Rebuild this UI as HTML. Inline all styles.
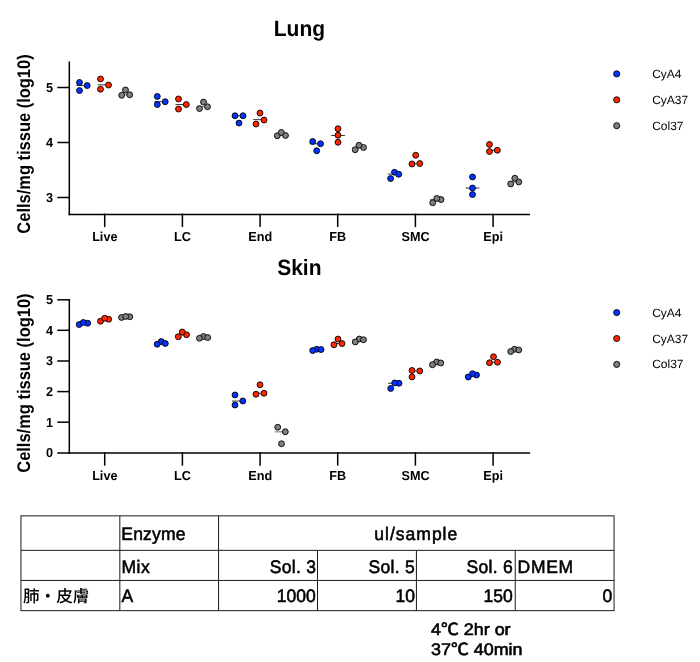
<!DOCTYPE html>
<html lang="ja">
<head>
<meta charset="utf-8">
<title>Lung / Skin cell yield</title>
<style>
html,body{margin:0;padding:0;background:#fff;}
body{width:700px;height:662px;overflow:hidden;}
svg{display:block;}
text{font-family:"Liberation Sans","Noto Sans CJK JP",sans-serif;fill:#000;text-rendering:geometricPrecision;}
.ax{stroke:#000;stroke-width:1.5;stroke-linecap:square;fill:none;}
.tk{font-size:13px;font-weight:bold;}
.lg{font-size:12px;}
.ti{font-size:21px;font-weight:bold;}
.yl{font-size:16.3px;font-weight:bold;}
.tb{stroke:#1a1a1a;stroke-width:1;fill:none;}
.tt{font-size:17.5px;stroke:#000;stroke-width:0.55;}
.tj{font-size:16.6px;font-weight:500;}
.fn{font-size:17.9px;stroke:#000;stroke-width:0.65;}
</style>
</head>
<body>
<svg width="700" height="662" viewBox="0 0 700 662" style="will-change:transform">
<!-- Lung -->
<text transform="translate(299.4,35.9) scale(1,1.05)" class="ti" text-anchor="middle">Lung</text>
<text transform="translate(29.5,144) rotate(-90) scale(1.011,1.12)" class="yl" text-anchor="middle">Cells/mg tissue (log10)</text>
<line x1="69.3" y1="61.45" x2="69.3" y2="215.15" class="ax" style="stroke-linecap:butt"/>
<line x1="58" y1="87.5" x2="69.3" y2="87.5" class="ax"/>
<text transform="translate(53.0,91.8) scale(0.975,1)" class="tk" text-anchor="end">5</text>
<line x1="58" y1="142.5" x2="69.3" y2="142.5" class="ax"/>
<text transform="translate(53.0,146.8) scale(0.975,1)" class="tk" text-anchor="end">4</text>
<line x1="58" y1="197.5" x2="69.3" y2="197.5" class="ax"/>
<text transform="translate(53.0,201.8) scale(0.975,1)" class="tk" text-anchor="end">3</text>
<line x1="69.3" y1="214.4" x2="529.3" y2="214.4" class="ax"/>
<line x1="104.7" y1="214.4" x2="104.7" y2="226.30" class="ax"/>
<text transform="translate(104.8,241.2) scale(0.975,1)" class="tk" text-anchor="middle">Live</text>
<line x1="182.4" y1="214.4" x2="182.4" y2="226.30" class="ax"/>
<text transform="translate(182.5,241.2) scale(0.975,1)" class="tk" text-anchor="middle">LC</text>
<line x1="260.1" y1="214.4" x2="260.1" y2="226.30" class="ax"/>
<text transform="translate(260.2,241.2) scale(0.975,1)" class="tk" text-anchor="middle">End</text>
<line x1="337.7" y1="214.4" x2="337.7" y2="226.30" class="ax"/>
<text transform="translate(337.8,241.2) scale(0.975,1)" class="tk" text-anchor="middle">FB</text>
<line x1="415.4" y1="214.4" x2="415.4" y2="226.30" class="ax"/>
<text transform="translate(415.5,241.2) scale(0.975,1)" class="tk" text-anchor="middle">SMC</text>
<line x1="493.1" y1="214.4" x2="493.1" y2="226.30" class="ax"/>
<text transform="translate(493.2,241.2) scale(0.975,1)" class="tk" text-anchor="middle">Epi</text>
<line x1="76.4" y1="85.55" x2="90.2" y2="85.55" stroke="#000" stroke-width="0.8"/>
<circle cx="79.5" cy="82.45" r="2.95" fill="#0433ff" stroke="#000" stroke-width="0.9"/>
<circle cx="79.5" cy="90.55" r="2.95" fill="#0433ff" stroke="#000" stroke-width="0.9"/>
<circle cx="87.2" cy="85.55" r="2.95" fill="#0433ff" stroke="#000" stroke-width="0.9"/>
<line x1="97.6" y1="84.85" x2="111.4" y2="84.85" stroke="#000" stroke-width="0.8"/>
<circle cx="100.5" cy="78.95" r="2.95" fill="#ff2600" stroke="#000" stroke-width="0.9"/>
<circle cx="100.5" cy="89.25" r="2.95" fill="#ff2600" stroke="#000" stroke-width="0.9"/>
<circle cx="108.5" cy="85.05" r="2.95" fill="#ff2600" stroke="#000" stroke-width="0.9"/>
<line x1="118.8" y1="94.75" x2="132.6" y2="94.75" stroke="#555" stroke-width="0.8"/>
<circle cx="121.7" cy="95.25" r="2.95" fill="#7f7f7f" stroke="#000" stroke-width="0.9"/>
<circle cx="129.7" cy="94.75" r="2.95" fill="#7f7f7f" stroke="#000" stroke-width="0.9"/>
<circle cx="125.5" cy="89.95" r="2.95" fill="#7f7f7f" stroke="#000" stroke-width="0.9"/>
<line x1="154.3" y1="101.65" x2="168.2" y2="101.65" stroke="#000" stroke-width="0.8"/>
<circle cx="157.3" cy="96.45" r="2.95" fill="#0433ff" stroke="#000" stroke-width="0.9"/>
<circle cx="157.3" cy="104.55" r="2.95" fill="#0433ff" stroke="#000" stroke-width="0.9"/>
<circle cx="165.2" cy="101.75" r="2.95" fill="#0433ff" stroke="#000" stroke-width="0.9"/>
<line x1="175.5" y1="104.55" x2="189.3" y2="104.55" stroke="#000" stroke-width="0.8"/>
<circle cx="178.5" cy="98.95" r="2.95" fill="#ff2600" stroke="#000" stroke-width="0.9"/>
<circle cx="178.5" cy="109.05" r="2.95" fill="#ff2600" stroke="#000" stroke-width="0.9"/>
<circle cx="186.3" cy="104.55" r="2.95" fill="#ff2600" stroke="#000" stroke-width="0.9"/>
<line x1="196.6" y1="106.75" x2="210.4" y2="106.75" stroke="#555" stroke-width="0.8"/>
<circle cx="199.5" cy="108.55" r="2.95" fill="#7f7f7f" stroke="#000" stroke-width="0.9"/>
<circle cx="207.5" cy="106.75" r="2.95" fill="#7f7f7f" stroke="#000" stroke-width="0.9"/>
<circle cx="203.5" cy="102.05" r="2.95" fill="#7f7f7f" stroke="#000" stroke-width="0.9"/>
<line x1="232.1" y1="115.75" x2="245.9" y2="115.75" stroke="#000" stroke-width="0.8"/>
<circle cx="235.0" cy="115.75" r="2.95" fill="#0433ff" stroke="#000" stroke-width="0.9"/>
<circle cx="243.0" cy="115.75" r="2.95" fill="#0433ff" stroke="#000" stroke-width="0.9"/>
<circle cx="239.0" cy="123.05" r="2.95" fill="#0433ff" stroke="#000" stroke-width="0.9"/>
<line x1="253.1" y1="119.65" x2="266.9" y2="119.65" stroke="#000" stroke-width="0.8"/>
<circle cx="260.0" cy="113.05" r="2.95" fill="#ff2600" stroke="#000" stroke-width="0.9"/>
<circle cx="256.0" cy="124.05" r="2.95" fill="#ff2600" stroke="#000" stroke-width="0.9"/>
<circle cx="264.0" cy="120.05" r="2.95" fill="#ff2600" stroke="#000" stroke-width="0.9"/>
<line x1="274.5" y1="135.45" x2="288.3" y2="135.45" stroke="#555" stroke-width="0.8"/>
<circle cx="277.3" cy="135.75" r="2.95" fill="#7f7f7f" stroke="#000" stroke-width="0.9"/>
<circle cx="285.5" cy="135.45" r="2.95" fill="#7f7f7f" stroke="#000" stroke-width="0.9"/>
<circle cx="281.3" cy="132.45" r="2.95" fill="#7f7f7f" stroke="#000" stroke-width="0.9"/>
<line x1="309.7" y1="143.75" x2="323.5" y2="143.75" stroke="#000" stroke-width="0.8"/>
<circle cx="312.7" cy="141.55" r="2.95" fill="#0433ff" stroke="#000" stroke-width="0.9"/>
<circle cx="316.7" cy="150.75" r="2.95" fill="#0433ff" stroke="#000" stroke-width="0.9"/>
<circle cx="320.5" cy="143.75" r="2.95" fill="#0433ff" stroke="#000" stroke-width="0.9"/>
<line x1="331.1" y1="135.45" x2="344.9" y2="135.45" stroke="#000" stroke-width="0.8"/>
<circle cx="338.0" cy="128.75" r="2.95" fill="#ff2600" stroke="#000" stroke-width="0.9"/>
<circle cx="338.0" cy="142.25" r="2.95" fill="#ff2600" stroke="#000" stroke-width="0.9"/>
<circle cx="338.0" cy="135.25" r="2.95" fill="#ff2600" stroke="#000" stroke-width="0.9"/>
<line x1="352.5" y1="147.45" x2="366.2" y2="147.45" stroke="#555" stroke-width="0.8"/>
<circle cx="355.2" cy="149.75" r="2.95" fill="#7f7f7f" stroke="#000" stroke-width="0.9"/>
<circle cx="363.5" cy="147.45" r="2.95" fill="#7f7f7f" stroke="#000" stroke-width="0.9"/>
<circle cx="359.0" cy="145.25" r="2.95" fill="#7f7f7f" stroke="#000" stroke-width="0.9"/>
<line x1="387.8" y1="174.05" x2="401.5" y2="174.05" stroke="#000" stroke-width="0.8"/>
<circle cx="390.6" cy="178.55" r="2.95" fill="#0433ff" stroke="#000" stroke-width="0.9"/>
<circle cx="394.5" cy="172.25" r="2.95" fill="#0433ff" stroke="#000" stroke-width="0.9"/>
<circle cx="398.7" cy="174.25" r="2.95" fill="#0433ff" stroke="#000" stroke-width="0.9"/>
<line x1="409.0" y1="163.55" x2="422.8" y2="163.55" stroke="#000" stroke-width="0.8"/>
<circle cx="415.7" cy="155.25" r="2.95" fill="#ff2600" stroke="#000" stroke-width="0.9"/>
<circle cx="412.0" cy="163.95" r="2.95" fill="#ff2600" stroke="#000" stroke-width="0.9"/>
<circle cx="419.8" cy="163.55" r="2.95" fill="#ff2600" stroke="#000" stroke-width="0.9"/>
<line x1="430.0" y1="199.55" x2="443.8" y2="199.55" stroke="#555" stroke-width="0.8"/>
<circle cx="432.7" cy="202.75" r="2.95" fill="#7f7f7f" stroke="#000" stroke-width="0.9"/>
<circle cx="441.0" cy="199.55" r="2.95" fill="#7f7f7f" stroke="#000" stroke-width="0.9"/>
<circle cx="436.8" cy="198.45" r="2.95" fill="#7f7f7f" stroke="#000" stroke-width="0.9"/>
<line x1="465.6" y1="188.05" x2="479.4" y2="188.05" stroke="#000" stroke-width="0.8"/>
<circle cx="472.5" cy="176.95" r="2.95" fill="#0433ff" stroke="#000" stroke-width="0.9"/>
<circle cx="472.5" cy="194.55" r="2.95" fill="#0433ff" stroke="#000" stroke-width="0.9"/>
<circle cx="472.5" cy="188.05" r="2.95" fill="#0433ff" stroke="#000" stroke-width="0.9"/>
<line x1="486.5" y1="150.25" x2="500.3" y2="150.25" stroke="#000" stroke-width="0.8"/>
<circle cx="489.5" cy="144.45" r="2.95" fill="#ff2600" stroke="#000" stroke-width="0.9"/>
<circle cx="489.5" cy="151.55" r="2.95" fill="#ff2600" stroke="#000" stroke-width="0.9"/>
<circle cx="497.3" cy="150.25" r="2.95" fill="#ff2600" stroke="#000" stroke-width="0.9"/>
<line x1="507.9" y1="181.95" x2="521.6" y2="181.95" stroke="#555" stroke-width="0.8"/>
<circle cx="510.7" cy="183.95" r="2.95" fill="#7f7f7f" stroke="#000" stroke-width="0.9"/>
<circle cx="518.8" cy="181.95" r="2.95" fill="#7f7f7f" stroke="#000" stroke-width="0.9"/>
<circle cx="514.8" cy="178.25" r="2.95" fill="#7f7f7f" stroke="#000" stroke-width="0.9"/>
<circle cx="616.7" cy="73.9" r="3.0500000000000003" fill="#0433ff" stroke="#000" stroke-width="0.9"/>
<text x="652.2" y="77.9" class="lg">CyA4</text>
<circle cx="616.7" cy="99.8" r="3.0500000000000003" fill="#ff2600" stroke="#000" stroke-width="0.9"/>
<text x="652.2" y="103.8" class="lg">CyA37</text>
<circle cx="616.7" cy="125.7" r="3.0500000000000003" fill="#7f7f7f" stroke="#000" stroke-width="0.9"/>
<text x="652.2" y="129.7" class="lg">Col37</text>
<!-- Skin -->
<text transform="translate(299.3,275.0) scale(1,1.05)" class="ti" text-anchor="middle">Skin</text>
<text transform="translate(29.5,383.1) rotate(-90) scale(1.011,1.12)" class="yl" text-anchor="middle">Cells/mg tissue (log10)</text>
<line x1="69.3" y1="299.05" x2="69.3" y2="453.75" class="ax" style="stroke-linecap:butt"/>
<line x1="58" y1="299.8" x2="69.3" y2="299.8" class="ax"/>
<text transform="translate(53.0,304.1) scale(0.975,1)" class="tk" text-anchor="end">5</text>
<line x1="58" y1="330.3" x2="69.3" y2="330.3" class="ax"/>
<text transform="translate(53.0,334.6) scale(0.975,1)" class="tk" text-anchor="end">4</text>
<line x1="58" y1="361.0" x2="69.3" y2="361.0" class="ax"/>
<text transform="translate(53.0,365.3) scale(0.975,1)" class="tk" text-anchor="end">3</text>
<line x1="58" y1="391.6" x2="69.3" y2="391.6" class="ax"/>
<text transform="translate(53.0,395.9) scale(0.975,1)" class="tk" text-anchor="end">2</text>
<line x1="58" y1="422.2" x2="69.3" y2="422.2" class="ax"/>
<text transform="translate(53.0,426.5) scale(0.975,1)" class="tk" text-anchor="end">1</text>
<line x1="58" y1="453" x2="69.3" y2="453" class="ax"/>
<text transform="translate(53.0,457.3) scale(0.975,1)" class="tk" text-anchor="end">0</text>
<line x1="69.3" y1="453" x2="529.3" y2="453" class="ax"/>
<line x1="104.7" y1="453" x2="104.7" y2="464.90" class="ax"/>
<text transform="translate(104.8,480.1) scale(0.975,1)" class="tk" text-anchor="middle">Live</text>
<line x1="182.4" y1="453" x2="182.4" y2="464.90" class="ax"/>
<text transform="translate(182.5,480.1) scale(0.975,1)" class="tk" text-anchor="middle">LC</text>
<line x1="260.1" y1="453" x2="260.1" y2="464.90" class="ax"/>
<text transform="translate(260.2,480.1) scale(0.975,1)" class="tk" text-anchor="middle">End</text>
<line x1="337.7" y1="453" x2="337.7" y2="464.90" class="ax"/>
<text transform="translate(337.8,480.1) scale(0.975,1)" class="tk" text-anchor="middle">FB</text>
<line x1="415.4" y1="453" x2="415.4" y2="464.90" class="ax"/>
<text transform="translate(415.5,480.1) scale(0.975,1)" class="tk" text-anchor="middle">SMC</text>
<line x1="493.1" y1="453" x2="493.1" y2="464.90" class="ax"/>
<text transform="translate(493.2,480.1) scale(0.975,1)" class="tk" text-anchor="middle">Epi</text>
<line x1="76.5" y1="323.25" x2="90.4" y2="323.25" stroke="#000" stroke-width="0.8"/>
<circle cx="79.2" cy="324.55" r="2.95" fill="#0433ff" stroke="#000" stroke-width="0.9"/>
<circle cx="87.7" cy="323.25" r="2.95" fill="#0433ff" stroke="#000" stroke-width="0.9"/>
<circle cx="83.3" cy="322.45" r="2.95" fill="#0433ff" stroke="#000" stroke-width="0.9"/>
<line x1="97.7" y1="319.25" x2="111.5" y2="319.25" stroke="#000" stroke-width="0.8"/>
<circle cx="100.5" cy="321.25" r="2.95" fill="#ff2600" stroke="#000" stroke-width="0.9"/>
<circle cx="108.7" cy="319.25" r="2.95" fill="#ff2600" stroke="#000" stroke-width="0.9"/>
<circle cx="104.7" cy="318.25" r="2.95" fill="#ff2600" stroke="#000" stroke-width="0.9"/>
<line x1="118.8" y1="316.75" x2="132.6" y2="316.75" stroke="#555" stroke-width="0.8"/>
<circle cx="121.5" cy="317.45" r="2.95" fill="#7f7f7f" stroke="#000" stroke-width="0.9"/>
<circle cx="129.8" cy="316.75" r="2.95" fill="#7f7f7f" stroke="#000" stroke-width="0.9"/>
<circle cx="125.7" cy="316.45" r="2.95" fill="#7f7f7f" stroke="#000" stroke-width="0.9"/>
<line x1="154.3" y1="343.45" x2="168.2" y2="343.45" stroke="#000" stroke-width="0.8"/>
<circle cx="161.2" cy="341.55" r="2.95" fill="#0433ff" stroke="#000" stroke-width="0.9"/>
<circle cx="157.2" cy="344.25" r="2.95" fill="#0433ff" stroke="#000" stroke-width="0.9"/>
<circle cx="165.3" cy="343.45" r="2.95" fill="#0433ff" stroke="#000" stroke-width="0.9"/>
<line x1="175.5" y1="334.75" x2="189.3" y2="334.75" stroke="#000" stroke-width="0.8"/>
<circle cx="178.3" cy="336.75" r="2.95" fill="#ff2600" stroke="#000" stroke-width="0.9"/>
<circle cx="186.5" cy="334.75" r="2.95" fill="#ff2600" stroke="#000" stroke-width="0.9"/>
<circle cx="182.3" cy="332.05" r="2.95" fill="#ff2600" stroke="#000" stroke-width="0.9"/>
<line x1="196.7" y1="337.55" x2="210.5" y2="337.55" stroke="#555" stroke-width="0.8"/>
<circle cx="203.5" cy="336.55" r="2.95" fill="#7f7f7f" stroke="#000" stroke-width="0.9"/>
<circle cx="207.7" cy="337.55" r="2.95" fill="#7f7f7f" stroke="#000" stroke-width="0.9"/>
<circle cx="199.5" cy="338.25" r="2.95" fill="#7f7f7f" stroke="#000" stroke-width="0.9"/>
<line x1="232.0" y1="401.05" x2="245.8" y2="401.05" stroke="#000" stroke-width="0.8"/>
<circle cx="235.0" cy="394.95" r="2.95" fill="#0433ff" stroke="#000" stroke-width="0.9"/>
<circle cx="235.0" cy="405.05" r="2.95" fill="#0433ff" stroke="#000" stroke-width="0.9"/>
<circle cx="242.8" cy="400.95" r="2.95" fill="#0433ff" stroke="#000" stroke-width="0.9"/>
<line x1="253.1" y1="393.25" x2="266.9" y2="393.25" stroke="#000" stroke-width="0.8"/>
<circle cx="260.0" cy="384.75" r="2.95" fill="#ff2600" stroke="#000" stroke-width="0.9"/>
<circle cx="256.0" cy="394.25" r="2.95" fill="#ff2600" stroke="#000" stroke-width="0.9"/>
<circle cx="264.0" cy="393.25" r="2.95" fill="#ff2600" stroke="#000" stroke-width="0.9"/>
<line x1="274.6" y1="431.85" x2="288.4" y2="431.85" stroke="#555" stroke-width="0.8"/>
<circle cx="277.7" cy="427.25" r="2.95" fill="#7f7f7f" stroke="#000" stroke-width="0.9"/>
<circle cx="285.3" cy="431.75" r="2.95" fill="#7f7f7f" stroke="#000" stroke-width="0.9"/>
<circle cx="281.5" cy="443.75" r="2.95" fill="#7f7f7f" stroke="#000" stroke-width="0.9"/>
<line x1="310.0" y1="349.55" x2="323.8" y2="349.55" stroke="#000" stroke-width="0.8"/>
<circle cx="316.7" cy="349.25" r="2.95" fill="#0433ff" stroke="#000" stroke-width="0.9"/>
<circle cx="312.7" cy="350.55" r="2.95" fill="#0433ff" stroke="#000" stroke-width="0.9"/>
<circle cx="321.0" cy="349.55" r="2.95" fill="#0433ff" stroke="#000" stroke-width="0.9"/>
<line x1="331.1" y1="343.55" x2="344.9" y2="343.55" stroke="#000" stroke-width="0.8"/>
<circle cx="334.0" cy="344.75" r="2.95" fill="#ff2600" stroke="#000" stroke-width="0.9"/>
<circle cx="342.0" cy="343.55" r="2.95" fill="#ff2600" stroke="#000" stroke-width="0.9"/>
<circle cx="338.0" cy="339.05" r="2.95" fill="#ff2600" stroke="#000" stroke-width="0.9"/>
<line x1="352.5" y1="339.75" x2="366.3" y2="339.75" stroke="#555" stroke-width="0.8"/>
<circle cx="359.3" cy="339.05" r="2.95" fill="#7f7f7f" stroke="#000" stroke-width="0.9"/>
<circle cx="363.5" cy="339.75" r="2.95" fill="#7f7f7f" stroke="#000" stroke-width="0.9"/>
<circle cx="355.3" cy="341.95" r="2.95" fill="#7f7f7f" stroke="#000" stroke-width="0.9"/>
<line x1="388.0" y1="383.25" x2="401.8" y2="383.25" stroke="#000" stroke-width="0.8"/>
<circle cx="390.7" cy="388.45" r="2.95" fill="#0433ff" stroke="#000" stroke-width="0.9"/>
<circle cx="399.0" cy="383.25" r="2.95" fill="#0433ff" stroke="#000" stroke-width="0.9"/>
<circle cx="394.7" cy="382.95" r="2.95" fill="#0433ff" stroke="#000" stroke-width="0.9"/>
<line x1="409.0" y1="370.95" x2="422.8" y2="370.95" stroke="#000" stroke-width="0.8"/>
<circle cx="412.0" cy="370.45" r="2.95" fill="#ff2600" stroke="#000" stroke-width="0.9"/>
<circle cx="419.8" cy="370.95" r="2.95" fill="#ff2600" stroke="#000" stroke-width="0.9"/>
<circle cx="412.0" cy="376.95" r="2.95" fill="#ff2600" stroke="#000" stroke-width="0.9"/>
<line x1="429.8" y1="362.95" x2="443.5" y2="362.95" stroke="#555" stroke-width="0.8"/>
<circle cx="436.7" cy="361.95" r="2.95" fill="#7f7f7f" stroke="#000" stroke-width="0.9"/>
<circle cx="432.5" cy="364.75" r="2.95" fill="#7f7f7f" stroke="#000" stroke-width="0.9"/>
<circle cx="440.8" cy="362.95" r="2.95" fill="#7f7f7f" stroke="#000" stroke-width="0.9"/>
<line x1="465.5" y1="375.05" x2="479.3" y2="375.05" stroke="#000" stroke-width="0.8"/>
<circle cx="468.3" cy="377.05" r="2.95" fill="#0433ff" stroke="#000" stroke-width="0.9"/>
<circle cx="476.5" cy="375.05" r="2.95" fill="#0433ff" stroke="#000" stroke-width="0.9"/>
<circle cx="472.5" cy="373.75" r="2.95" fill="#0433ff" stroke="#000" stroke-width="0.9"/>
<line x1="486.6" y1="362.25" x2="500.4" y2="362.25" stroke="#000" stroke-width="0.8"/>
<circle cx="489.5" cy="362.75" r="2.95" fill="#ff2600" stroke="#000" stroke-width="0.9"/>
<circle cx="497.5" cy="362.25" r="2.95" fill="#ff2600" stroke="#000" stroke-width="0.9"/>
<circle cx="493.5" cy="356.75" r="2.95" fill="#ff2600" stroke="#000" stroke-width="0.9"/>
<line x1="507.8" y1="349.95" x2="521.6" y2="349.95" stroke="#555" stroke-width="0.8"/>
<circle cx="514.5" cy="349.25" r="2.95" fill="#7f7f7f" stroke="#000" stroke-width="0.9"/>
<circle cx="510.7" cy="351.55" r="2.95" fill="#7f7f7f" stroke="#000" stroke-width="0.9"/>
<circle cx="518.7" cy="349.95" r="2.95" fill="#7f7f7f" stroke="#000" stroke-width="0.9"/>
<circle cx="616.7" cy="312.6" r="3.0500000000000003" fill="#0433ff" stroke="#000" stroke-width="0.9"/>
<text x="652.2" y="316.6" class="lg">CyA4</text>
<circle cx="616.7" cy="338.5" r="3.0500000000000003" fill="#ff2600" stroke="#000" stroke-width="0.9"/>
<text x="652.2" y="342.5" class="lg">CyA37</text>
<circle cx="616.7" cy="364.4" r="3.0500000000000003" fill="#7f7f7f" stroke="#000" stroke-width="0.9"/>
<text x="652.2" y="368.4" class="lg">Col37</text>
<!-- Table -->
<rect x="20.95" y="515.85" width="593.0999999999999" height="94.79999999999995" class="tb"/>
<line x1="20.95" y1="550.35" x2="614.05" y2="550.35" class="tb"/>
<line x1="20.95" y1="580.45" x2="614.05" y2="580.45" class="tb"/>
<line x1="119.83" y1="515.85" x2="119.83" y2="610.65" class="tb"/>
<line x1="218.55" y1="515.85" x2="218.55" y2="610.65" class="tb"/>
<line x1="317.5" y1="550.35" x2="317.5" y2="610.65" class="tb"/>
<line x1="416.42" y1="550.35" x2="416.42" y2="610.65" class="tb"/>
<line x1="515.25" y1="550.35" x2="515.25" y2="610.65" class="tb"/>
<text transform="translate(121.3,540.0) scale(1,1.035)" class="tt" letter-spacing="0.2">Enzyme</text>
<text transform="translate(416.3,540.0) scale(1,1.035)" class="tt" text-anchor="middle" letter-spacing="1">ul/sample</text>
<text transform="translate(121.5,572.6) scale(1,1.035)" class="tt" letter-spacing="0.5">Mix</text>
<text transform="translate(316.2,572.6) scale(1,1.035)" class="tt" text-anchor="end" letter-spacing="0.28">Sol. 3</text>
<text transform="translate(415.0,572.6) scale(1,1.035)" class="tt" text-anchor="end" letter-spacing="0.28">Sol. 5</text>
<text transform="translate(513.0,572.6) scale(1,1.035)" class="tt" text-anchor="end" letter-spacing="0.28">Sol. 6</text>
<text transform="translate(517.6,572.6) scale(1,1.035)" class="tt" letter-spacing="0.7">DMEM</text>
<text x="23.0" y="602.0" class="tj">肺・皮膚</text>
<text transform="translate(121.6,602.3) scale(1,1.035)" class="tt">A</text>
<text transform="translate(315.8,602.3) scale(1,1.035)" class="tt" text-anchor="end">1000</text>
<text transform="translate(415.0,602.3) scale(1,1.035)" class="tt" text-anchor="end">10</text>
<text transform="translate(512.8,602.3) scale(1,1.035)" class="tt" text-anchor="end">150</text>
<text transform="translate(612.2,602.3) scale(1,1.035)" class="tt" text-anchor="end">0</text>
<text transform="translate(431.0,635.2) scale(1,0.93)" class="fn">4℃ 2hr or</text>
<text transform="translate(431.0,654.6) scale(1,0.93)" class="fn">37℃ 40min</text>
</svg>
</body>
</html>
